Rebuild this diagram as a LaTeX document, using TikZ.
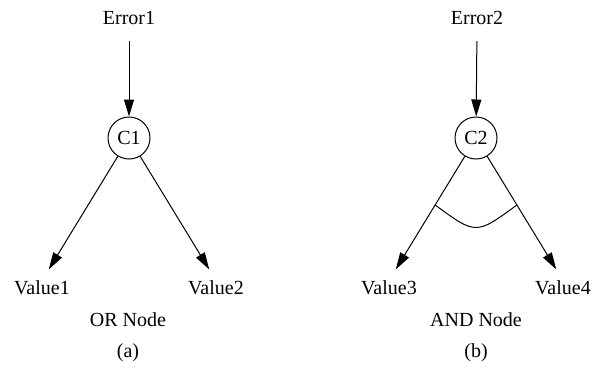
\documentclass[tikz,border=0pt]{standalone}
\usepackage{fontspec}
\setmainfont{Liberation Serif}
\usetikzlibrary{arrows.meta,calc}
\begin{document}
\begin{tikzpicture}[x=0.5pt,y=-0.5pt,
  lbl/.style={inner sep=0pt,font=\fontsize{10}{12}\selectfont},
  cnode/.style={circle,draw,line width=0.5pt,minimum size=21pt,inner sep=0pt,font=\fontsize{10}{12}\selectfont},
  conn/.style={line width=0.5pt,-{Triangle[length=8.5pt,width=5pt]}},
  andarc/.style={line width=0.5pt}]
\useasboundingbox (0,0) rectangle (592,381);
% left: OR node
\node[lbl] (e1) at (129,18) {Error1};
\node[cnode] (c1) at (129,138) {C1};
\node[lbl] (v1) at (42,288) {Value1};
\node[lbl] (v2) at (216,288) {Value2};
\node[lbl] (or) at (128,320) {OR Node};
\node[lbl] (a) at (128,353) {(a)};
\draw[conn,shorten <=8pt] (e1.south) -- (c1);
\draw[conn,shorten >=6.5pt] (c1) -- (v1.north);
\draw[conn,shorten >=6.5pt] (c1) -- (v2.north);
% right: AND node
\node[lbl] (e2) at (477,18) {Error2};
\node[cnode] (c2) at (476,138) {C2};
\node[lbl] (v3) at (389,288) {Value3};
\node[lbl] (v4) at (563,288) {Value4};
\node[lbl] (and) at (476,320) {AND Node};
\node[lbl] (b) at (476,353) {(b)};
\draw[conn,shorten <=8pt] (e2.south) -- (c2);
\draw[conn,shorten >=6.5pt] (c2) -- (v3.north);
\draw[conn,shorten >=6.5pt] (c2) -- (v4.north);
\coordinate (p3) at ($(c2)!0.47!(v3.north)$);
\coordinate (p4) at ($(c2)!0.47!(v4.north)$);
\coordinate (pc) at ($(p3)!0.5!(p4)+(0,30)$);
\draw[andarc] (p3) .. controls (pc) .. (p4);
\end{tikzpicture}
\end{document}
